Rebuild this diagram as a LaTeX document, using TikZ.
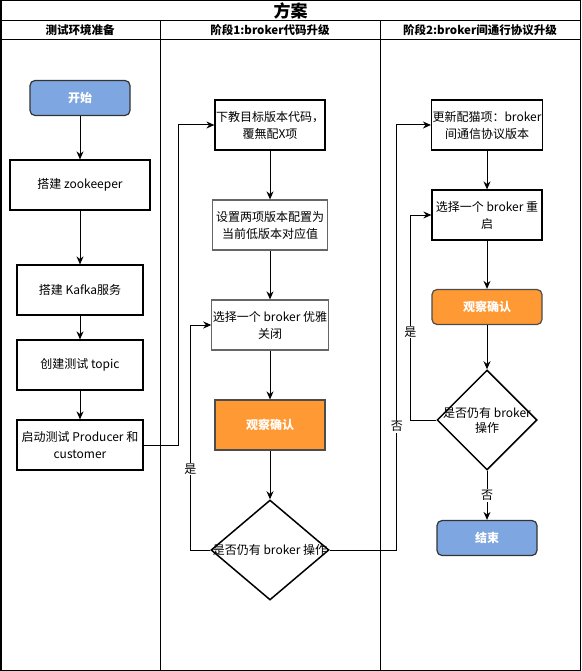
\documentclass[tikz,border=0pt]{standalone}
\usepackage{fontspec}
\setmainfont{Noto Sans CJK SC}
\usetikzlibrary{positioning,arrows.meta,shapes.geometric}

\definecolor{startblue}{HTML}{7EA6E0}
\definecolor{checkorange}{HTML}{FF9933}

\begin{document}
\begin{tikzpicture}[x=1pt, y=1pt, >={Stealth[length=8pt,width=7pt]},
    line width=1pt,
    stepbox/.style={draw, line width=1.2pt, minimum width=110pt, minimum height=50pt, align=center,
      inner sep=1pt, font=\fontsize{12}{17}\selectfont},
    termbox/.style={draw=black!80, line width=1.2pt, fill=startblue, rounded corners=5pt, minimum width=100pt,
      minimum height=35pt, text=white, font=\fontsize{12}{14}\selectfont\bfseries},
    checkbox/.style={draw=black!70, line width=1.2pt, fill=checkorange, minimum width=110pt, minimum height=50pt,
      text=white, font=\fontsize{12}{14}\selectfont\bfseries},
    decision/.style={draw, line width=1.5pt, diamond, minimum width=118pt, minimum height=100pt, inner sep=0pt},
    lbl/.style={fill=white, inner sep=1pt, font=\fontsize{12}{14}\selectfont}]
      % Sizes
      \def\W{581}   % total width
      \def\H{671}   % total height
      \def\colA{160}
      \def\colB{380}

      \useasboundingbox (0,0) rectangle (\W,-\H);

      % Outer frame, title and header rows
      \draw[line width=1.5pt] (0.75,-0.75) rectangle (\W-0.75,-\H+0.75);
      \draw (0,-21) -- (\W,-21);
      \draw (0,-40) -- (\W,-40);
      \draw (\colA,-21) -- (\colA,-\H);
      \draw (\colB,-21) -- (\colB,-\H);

      \node[font=\fontsize{17}{19}\selectfont\bfseries] (title) at (290.5,-11) {方案};
      \node[font=\fontsize{11.5}{13}\selectfont\bfseries] (hA) at (\colA/2,-30.5) {测试环境准备};
      \node[font=\fontsize{11.5}{13}\selectfont\bfseries] (hB) at (270,-30.5) {阶段1:broker代码升级};
      \node[font=\fontsize{11.5}{13}\selectfont\bfseries] (hC) at (480,-30.5) {阶段2:broker间通行协议升级};

      % Test environment
      \node[termbox] (start) at (80,-98) {开始};
      \node[stepbox, minimum width=140pt] (zk) at (80,-185) {搭建 zookeeper};
      \node[stepbox, minimum width=126pt] (kafka) at (80,-290) {搭建 Kafka服务};
      \node[stepbox, minimum width=126pt] (topic) at (80,-365) {创建测试 topic};
      \node[stepbox, minimum width=126pt] (prod) at (80,-445) {启动测试 Producer 和\\customer};

      % Stage 1
      \node[stepbox] (dl) at (270,-125) {下教目标版本代码，\\覆無配X项};
      \node[stepbox, draw=black!60, minimum width=115pt] (cfg) at (270,-225) {设置两项版本配置为\\当前低版本对应值};
      \node[stepbox, draw=black!60, minimum width=115pt] (sel1) at (270,-325) {选择一个 broker 优雅\\关闭};
      \node[checkbox] (chk1) at (270,-425) {观察确认};
      \node[decision] (dec1) at (270,-550) {};
      \node[font=\fontsize{12}{14}\selectfont] (dec1t) at (dec1) {是否仍有 broker 操作};

      % Stage 2
      \node[stepbox] (upd) at (487,-125) {更新配猫项：broker\\间通信协议版本};
      \node[stepbox] (sel2) at (487,-215) {选择一个 broker 重\\启};
      \node[checkbox, rounded corners=5pt, minimum height=35pt] (chk2) at (487,-307) {观察确认};
      \node[decision, minimum width=100pt] (dec2) at (487,-420) {};
      \node[align=center, font=\fontsize{12}{15}\selectfont] (dec2t) at (dec2) {是否仍有 broker\\操作};
      \node[termbox] (end) at (487,-538) {结束};

      % Connectors
      \draw[->] (start) -- (zk);
      \draw[->] (zk) -- (kafka);
      \draw[->] (kafka) -- (topic);
      \draw[->] (topic) -- (prod);
      \draw[->] (prod.east) -- ++(35,0) |- (dl.west);

      \draw[->] (dl) -- (cfg);
      \draw[->] (cfg) -- (sel1);
      \draw[->] (sel1) -- (chk1);
      \draw[->] (chk1) -- (dec1);
      \draw[->] (dec1.west) -- ++(-20,0) |- node[lbl, pos=0.18] (yes1) {是} (sel1.west);
      \draw[->] (dec1.east) -- ++(67,0) |- node[lbl, pos=0.145] (no1) {否} (upd.west);

      \draw[->] (upd) -- (sel2);
      \draw[->] (sel2) -- (chk2);
      \draw[->] (chk2) -- (dec2);
      \draw[->] (dec2.west) -- ++(-26,0) |- node[lbl, pos=0.215] (yes2) {是} (sel2.west);
      \draw[->] (dec2) -- node[lbl] (no2) {否} (end);
    \end{tikzpicture}
\end{document}
